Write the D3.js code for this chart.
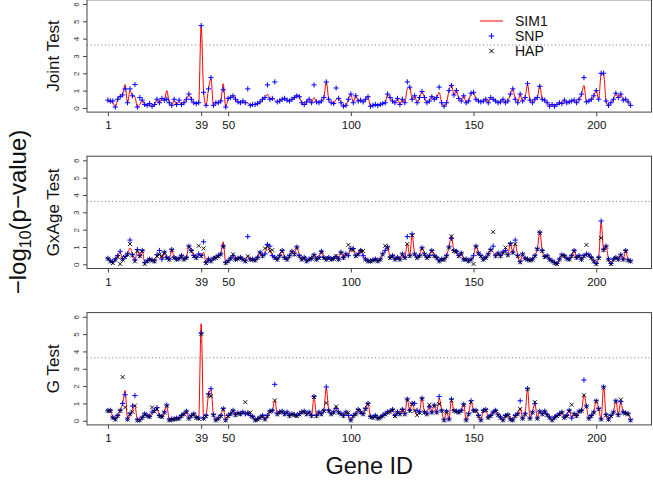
<!DOCTYPE html>
<html><head><meta charset="utf-8">
<script src="https://cdn.jsdelivr.net/npm/d3@7"></script>
<style>body{margin:0;background:#fff}svg{display:block}text{font-family:"Liberation Sans",Arial,Helvetica,sans-serif}</style>
</head><body><svg id="c" width="653" height="484"></svg>
<script>
// ---------- data ----------
const nGenes = 214;
const xTicks = [1, 39, 50, 100, 150, 200];
const yTicks = [0, 1, 2, 3, 4, 5, 6];
const threshold = 3.63; // -log10(0.05/214)
const panelNames = ["Joint Test", "GxAge Test", "G Test"];
const seriesNames = ["SIM1", "SNP", "HAP"];

const jointSIM1 = [
0.40,0.35,0.30,0.05,0.50,0.70,0.80,1.35,0.30,1.00,
0.70,0.65,0.05,0.20,0.45,0.20,0.15,0.20,0.10,0.20,
0.50,0.30,0.55,0.45,1.00,0.30,0.15,0.45,0.20,0.40,
0.20,0.30,0.50,0.75,0.50,0.30,0.25,0.30,4.75,0.90,
0.15,1.10,1.70,0.15,0.30,0.30,0.40,1.40,0.05,0.50,
0.60,0.70,0.50,0.35,0.30,0.40,0.30,0.30,0.15,0.20,
0.20,0.25,0.35,0.50,0.60,0.80,0.50,0.55,0.45,0.35,
0.40,0.50,0.55,0.45,0.40,0.50,0.60,0.70,0.65,0.30,
0.20,0.35,0.50,0.30,0.60,0.35,0.30,0.40,0.60,1.50,
0.50,0.30,0.25,0.50,0.55,0.30,0.10,0.15,0.50,0.80,
0.30,0.70,0.40,0.45,0.35,0.50,0.65,0.10,0.15,0.20,
0.15,0.20,0.25,0.30,0.80,0.60,0.40,0.30,0.55,0.20,
0.50,0.30,1.10,1.20,0.50,0.70,0.30,0.60,0.95,0.60,
0.30,0.40,0.65,0.50,0.60,0.90,0.30,0.10,0.30,1.00,
1.35,0.75,1.00,0.55,0.40,0.70,0.30,0.40,0.85,0.90,
0.50,0.40,0.35,0.40,0.50,0.30,0.60,0.50,0.40,0.30,
0.35,0.50,0.30,0.40,0.80,1.10,0.50,0.30,0.80,0.40,
0.60,1.35,0.45,0.30,0.50,0.60,1.30,0.50,0.45,0.30,
0.10,0.20,0.10,0.20,0.30,0.25,0.45,0.30,0.35,0.40,
0.45,0.30,0.50,0.80,1.30,0.35,0.40,0.50,0.70,1.00,
0.50,1.95,1.95,0.40,0.15,0.30,0.50,0.85,0.60,0.80,
0.45,0.50,0.35,0.15];
const jointSNP = [
0.45,0.40,0.40,0.05,0.50,0.65,0.75,1.10,0.30,1.10,
0.70,1.35,0.05,0.60,0.45,0.20,0.15,0.25,0.10,0.20,
0.50,0.30,0.55,0.45,0.50,0.30,0.15,0.50,0.20,0.45,
0.20,0.30,0.50,0.80,0.50,0.30,0.25,0.30,4.75,0.90,
0.15,1.10,1.75,0.15,0.30,0.30,0.40,1.05,0.05,0.55,
0.60,0.70,0.50,0.35,0.30,0.40,0.30,1.10,0.15,0.20,
0.20,0.25,0.35,0.50,0.60,1.33,0.50,0.55,1.50,0.35,
0.40,0.50,0.55,0.45,0.40,0.50,0.60,0.70,0.65,0.30,
0.20,0.35,0.50,0.30,1.33,0.35,0.30,0.40,0.60,1.50,
0.50,0.30,0.25,1.15,0.55,0.30,0.10,0.15,0.50,0.80,
0.30,0.70,0.40,0.45,0.35,0.50,0.65,0.10,0.15,0.20,
0.15,0.20,0.25,0.30,0.80,0.60,0.40,0.30,0.55,0.20,
0.50,0.30,1.50,1.20,0.50,0.70,0.30,0.60,0.95,0.60,
0.30,0.40,0.65,0.50,0.60,1.20,0.30,0.10,0.30,1.00,
1.30,0.75,1.00,0.55,0.40,0.70,0.30,0.40,0.85,0.90,
0.50,0.40,0.35,0.40,0.50,0.30,0.60,0.50,0.40,0.30,
0.35,0.50,0.30,0.40,0.80,1.10,0.50,0.30,0.80,0.40,
0.60,1.40,0.45,0.30,0.50,0.60,1.25,0.50,0.45,0.30,
0.10,0.20,0.10,0.20,0.30,0.25,0.45,0.30,0.35,0.40,
0.45,0.30,0.50,0.80,1.75,0.35,0.40,0.50,0.70,1.00,
0.50,2.00,2.00,0.40,0.15,0.30,0.50,0.85,0.60,0.80,
0.45,0.50,0.35,0.15];
const jointHAP = [];

const gxaSIM1 = [
0.35,0.20,0.10,0.30,0.50,0.70,0.30,0.45,0.60,0.95,
0.55,0.20,0.80,0.50,0.80,0.10,0.20,0.30,0.25,0.20,
0.50,0.60,0.30,0.70,0.40,0.30,0.85,0.40,0.30,0.35,
0.50,0.30,0.40,1.05,0.80,0.50,0.40,0.60,0.50,0.70,
0.10,0.30,0.20,0.35,0.40,0.50,0.60,1.30,0.10,0.20,
0.35,0.50,0.30,0.35,0.40,0.30,0.20,0.50,0.30,0.30,
0.25,0.40,0.70,0.50,0.60,1.05,0.80,0.50,0.40,0.30,
0.50,0.80,0.40,0.30,0.50,0.75,0.60,1.00,0.50,0.30,
0.40,0.20,0.30,0.35,0.55,0.30,0.40,0.75,0.40,0.30,
0.40,0.30,0.35,0.45,0.30,0.70,0.40,0.60,0.50,0.90,
0.85,0.50,0.60,0.80,0.50,0.30,0.20,0.20,0.25,0.30,
0.20,0.30,0.60,0.80,1.00,0.40,0.50,0.30,0.40,0.30,
0.60,0.40,1.20,0.50,1.70,0.60,0.40,0.50,0.95,0.60,
0.40,0.50,0.80,0.50,0.40,0.20,0.30,0.30,0.50,1.00,
1.65,0.80,0.75,0.50,0.65,0.30,0.30,0.20,0.30,0.50,
1.05,0.65,0.50,0.30,0.40,0.60,0.85,0.70,0.50,0.65,
0.50,0.70,0.80,0.55,1.20,0.70,1.20,0.50,0.15,0.60,
0.35,0.30,0.25,0.30,0.50,0.90,1.85,0.80,0.45,0.50,
0.30,0.20,0.10,0.05,0.30,0.55,0.50,0.35,0.30,0.50,
0.80,0.40,0.50,0.30,0.50,0.60,0.55,0.40,0.20,0.05,
0.40,2.45,0.85,1.05,0.30,0.05,0.30,0.40,0.30,0.55,
0.30,0.80,0.25,0.20];
const gxaSNP = [
0.35,0.20,0.15,0.30,0.50,0.75,0.30,0.45,0.60,1.40,
0.55,0.25,0.85,0.50,0.80,0.10,0.20,0.30,0.25,0.20,
0.55,0.80,0.30,0.70,0.40,0.30,0.85,0.40,0.30,0.35,
0.50,0.30,0.40,1.05,0.80,0.50,0.40,0.60,0.50,1.30,
0.10,0.30,0.20,0.35,0.40,0.50,0.60,1.05,0.10,0.20,
0.35,0.50,0.30,0.35,0.40,0.30,0.20,1.60,0.30,0.30,
0.25,0.40,0.70,0.50,0.60,1.15,1.05,0.50,0.40,0.30,
0.50,0.80,0.40,0.30,0.50,0.75,0.60,1.00,0.50,0.30,
0.40,0.20,0.30,0.35,0.55,0.30,0.40,0.75,0.40,0.30,
0.40,0.30,0.35,0.45,0.30,0.70,0.40,0.60,0.50,0.90,
0.90,0.50,0.60,0.80,0.50,0.30,0.20,0.20,0.25,0.30,
0.20,0.30,0.60,0.80,1.00,0.40,0.50,0.30,0.40,0.30,
0.60,0.40,1.60,0.50,1.75,0.60,0.40,0.50,0.95,0.60,
0.40,0.50,0.80,0.50,0.40,0.20,0.30,0.30,0.50,1.00,
1.50,0.80,0.75,0.50,0.65,0.30,0.30,0.20,0.30,0.50,
1.05,0.65,0.50,0.30,0.40,0.60,0.85,1.05,0.50,0.65,
0.50,0.70,0.80,0.55,1.20,0.70,1.40,0.50,0.15,0.60,
0.35,0.30,0.25,0.30,0.50,0.90,1.85,0.80,0.45,0.50,
0.30,0.20,0.10,0.05,0.30,0.55,0.50,0.35,0.30,0.50,
0.80,0.40,0.50,0.30,0.50,0.60,0.55,0.40,0.20,0.05,
0.40,2.50,0.85,1.05,0.30,0.05,0.30,0.40,0.30,0.55,
0.30,0.80,0.25,0.20];
const gxaHAP = [
0.35,0.20,0.10,0.30,0.45,0.05,0.30,0.45,0.60,1.20,
0.55,0.20,0.80,0.50,0.80,0.05,0.20,0.30,0.25,0.20,
0.50,0.60,0.50,0.70,0.40,0.30,0.85,0.40,0.30,0.35,
0.50,0.30,0.40,1.05,0.80,0.50,0.40,1.10,0.50,0.95,
0.10,0.30,0.20,0.35,0.40,0.50,0.60,1.05,0.10,0.20,
0.35,0.60,0.30,0.35,0.40,0.30,0.20,0.50,0.30,0.30,
0.25,0.40,0.70,0.50,0.95,1.05,0.80,0.85,0.40,0.30,
0.50,0.80,0.40,0.30,0.50,0.75,0.60,1.00,0.50,0.30,
0.40,0.20,0.30,0.35,0.55,0.30,0.40,0.75,0.40,0.30,
0.40,0.30,0.35,0.50,0.30,0.70,0.40,0.60,1.15,0.90,
0.85,0.50,0.60,0.80,0.80,0.30,0.20,0.20,0.25,0.30,
0.20,0.30,0.60,1.10,1.00,0.40,0.50,0.30,0.40,0.30,
0.60,0.40,1.20,0.50,1.70,0.60,0.40,0.50,0.95,0.60,
0.40,0.50,0.80,0.50,0.40,0.20,0.30,0.30,0.50,1.00,
1.65,0.80,0.75,0.50,0.65,0.30,0.30,0.20,0.30,0.05,
1.05,0.65,0.50,0.30,0.40,0.60,0.85,1.90,0.50,0.65,
0.50,0.70,1.00,0.55,1.20,0.70,1.20,0.50,0.15,0.60,
0.35,0.30,0.25,0.30,0.50,0.90,1.85,0.80,0.45,0.50,
0.30,0.20,0.10,0.05,0.30,0.55,0.50,0.35,0.30,0.50,
0.80,0.40,0.50,0.30,0.50,1.15,0.55,0.40,0.20,0.05,
0.40,1.55,0.85,1.05,0.30,0.05,0.30,0.40,0.30,0.55,
0.30,0.80,0.25,0.20];

const gSIM1 = [
0.60,0.60,0.20,0.10,0.30,0.60,1.00,1.75,0.10,0.40,
0.60,0.90,0.05,0.05,0.20,0.40,0.30,0.25,0.50,0.55,
0.70,0.30,0.25,0.50,0.90,0.05,0.10,0.10,0.15,0.15,
0.30,0.40,0.55,0.15,0.30,0.40,0.20,0.15,5.60,0.15,
0.30,1.50,1.80,0.35,0.05,0.15,0.30,0.70,0.05,0.30,
0.40,0.60,0.35,0.45,0.40,0.50,0.40,0.45,0.30,0.25,
0.05,0.10,0.20,0.30,0.10,0.30,0.55,0.60,1.20,0.40,
0.50,0.55,0.40,0.50,0.30,0.40,0.35,0.30,0.40,0.50,
0.55,0.40,0.50,0.30,1.40,0.30,0.50,0.40,0.60,1.90,
0.60,0.40,0.50,0.85,0.50,0.40,0.30,0.50,0.30,0.05,
0.30,0.40,0.65,0.50,0.40,0.70,1.00,0.25,0.20,0.30,
0.15,0.20,0.30,0.40,0.50,0.55,0.65,0.30,0.50,0.40,
0.65,0.40,1.25,0.60,1.00,0.60,0.35,0.50,1.30,0.50,
0.40,0.95,0.50,0.90,0.50,1.30,0.60,0.05,0.55,0.10,
1.20,0.60,0.55,0.50,0.60,0.95,0.05,0.40,1.10,0.60,
0.60,0.30,0.05,0.60,0.65,0.20,0.30,0.50,0.60,0.35,
0.20,0.05,0.30,0.35,0.10,0.05,0.30,0.40,0.75,0.15,
0.40,1.85,0.15,0.50,1.00,0.15,0.55,0.40,0.55,0.35,
0.20,0.05,0.20,0.30,0.40,0.50,0.20,0.30,0.60,0.15,
0.40,0.30,0.55,0.60,1.50,0.85,0.15,0.30,0.50,1.15,
0.70,0.10,1.95,0.35,0.10,0.30,0.50,1.15,0.35,1.10,
0.50,0.45,0.40,0.05];
const gSNP = [
0.58,0.60,0.20,0.10,0.30,0.60,1.00,1.50,0.10,0.40,
0.85,1.45,0.05,0.05,0.20,0.40,0.30,0.25,0.50,0.60,
0.75,0.30,0.25,0.50,0.90,0.05,0.10,0.10,0.15,0.15,
0.30,0.40,0.55,0.15,0.30,0.40,0.20,0.15,5.05,0.15,
0.30,1.55,1.85,0.35,0.05,0.15,0.30,0.70,0.05,0.30,
0.40,0.60,0.35,0.45,0.40,0.50,0.40,0.45,0.30,0.25,
0.05,0.10,0.20,0.30,0.10,0.30,0.55,0.60,2.10,0.40,
0.50,0.55,0.40,0.50,0.30,0.40,0.35,0.30,0.40,0.50,
0.55,0.40,0.50,0.30,1.40,0.30,0.50,0.40,0.60,1.95,
0.60,0.40,0.50,0.70,0.50,0.40,0.30,0.50,0.30,0.05,
0.30,0.40,0.65,0.50,0.40,0.70,1.00,0.25,0.20,0.30,
0.15,0.20,0.30,0.40,0.50,0.55,0.65,0.30,0.50,0.40,
0.65,0.40,1.25,0.60,1.00,1.00,0.60,0.50,1.30,0.50,
0.40,0.80,0.50,0.90,0.50,1.40,0.60,0.05,0.55,0.10,
1.25,0.60,0.55,0.50,0.60,0.95,0.05,0.40,1.15,0.60,
0.60,0.30,0.05,0.60,0.65,0.20,0.30,0.50,0.60,0.35,
0.20,0.05,0.30,0.35,0.10,0.05,0.30,0.40,1.15,0.15,
0.40,1.85,0.15,0.50,1.00,0.15,0.55,0.40,0.55,0.35,
0.20,0.05,0.20,0.30,0.40,0.50,0.20,0.30,0.60,0.15,
0.40,0.30,0.55,0.60,2.35,0.85,0.15,0.30,0.50,1.15,
0.70,0.10,1.95,0.35,0.10,0.30,0.50,1.15,0.35,1.10,
0.50,0.45,0.40,0.05];
const gHAP = [
0.60,0.60,0.20,0.10,0.30,0.60,2.55,0.80,0.10,0.40,
0.55,0.90,0.05,0.05,0.20,0.40,0.30,0.25,0.80,0.55,
0.70,0.30,0.25,0.50,0.90,0.05,0.10,0.10,0.15,0.15,
0.30,0.40,0.55,0.15,0.30,0.40,0.20,0.15,5.05,0.15,
0.30,1.50,1.45,0.35,0.05,0.15,0.30,0.70,0.05,0.30,
0.40,0.60,0.35,0.45,0.40,0.50,1.10,0.45,0.50,0.25,
0.05,0.10,0.20,0.30,0.10,0.30,0.55,0.60,1.20,0.40,
0.50,0.55,0.40,0.50,0.30,0.40,0.35,0.30,0.40,0.50,
0.55,0.40,0.50,0.30,1.40,0.30,0.50,0.40,0.60,1.05,
0.60,0.40,0.50,0.85,0.50,0.40,0.30,0.50,0.50,0.05,
0.30,0.40,0.65,0.50,0.40,0.70,1.00,0.25,0.20,0.30,
0.15,0.20,0.30,0.40,0.50,0.55,0.65,0.30,0.50,0.40,
0.65,0.40,1.25,0.60,1.00,0.60,0.35,0.50,1.30,0.50,
0.40,0.95,0.50,0.90,0.50,1.00,0.60,0.05,0.55,0.10,
1.20,0.60,0.55,0.50,0.60,0.95,0.05,0.40,1.10,0.60,
0.60,0.30,0.05,0.60,0.65,0.20,0.30,0.50,0.60,0.35,
0.20,0.05,0.30,0.35,0.10,0.05,0.30,0.40,0.70,0.15,
0.40,1.85,0.15,0.50,1.10,0.15,0.55,0.40,0.55,0.35,
0.20,0.05,0.20,0.30,0.40,0.50,0.20,0.30,0.60,0.95,
0.40,0.30,0.55,0.60,1.50,0.85,0.15,0.30,0.50,1.15,
0.70,0.10,1.95,0.35,0.10,0.30,0.50,1.15,0.35,1.25,
0.50,0.45,0.40,0.05];

// ---------- drawing ----------
const svg = d3.select("#c");
const plotL = 87, plotR = 651.5, plotH = 112.3;
const panelTops = [-0.2, 156.2, 312.6];
const panels = [
  {name: panelNames[0], sim: jointSIM1, snp: jointSNP, hap: jointHAP},
  {name: panelNames[1], sim: gxaSIM1, snp: gxaSNP, hap: gxaHAP},
  {name: panelNames[2], sim: gSIM1, snp: gSNP, hap: gHAP}
];
const pad = 0.04 * (nGenes - 1);
const x = d3.scaleLinear().domain([1 - pad, nGenes + pad]).range([plotL, plotR]);
const genes = d3.range(1, nGenes + 1);

const plusPath = s => `M${-s},0H${s}M0,${-s}V${s}`;
const crossPath = s => `M${-s},${-s}L${s},${s}M${-s},${s}L${s},${-s}`;

panels.forEach((p, i) => {
  const top = panelTops[i];
  const y = d3.scaleLinear().domain([-0.24, 6.24]).range([top + plotH, top]);
  const g = svg.append("g");

  // threshold
  g.append("line").attr("x1", plotL).attr("x2", plotR)
    .attr("y1", y(threshold)).attr("y2", y(threshold))
    .attr("stroke", "#777").attr("stroke-width", 1).attr("stroke-dasharray", "1,2.6");

  // SIM1 line
  const line = d3.line().x((d, k) => x(genes[k])).y(d => y(d)).curve(d3.curveMonotoneX);
  g.append("path").datum(p.sim).attr("d", line)
    .attr("fill", "none").attr("stroke", "#ff0000").attr("stroke-width", 1);

  // SNP +
  g.append("g").selectAll("path").data(p.snp).join("path")
    .attr("transform", (d, k) => `translate(${x(genes[k])},${y(d)})`)
    .attr("d", plusPath(2.6)).attr("stroke", "#0000ff").attr("stroke-width", 1).attr("fill", "none");

  // HAP x
  g.append("g").selectAll("path").data(p.hap).join("path")
    .attr("transform", (d, k) => `translate(${x(genes[k])},${y(d) + 0.5})`)
    .attr("d", crossPath(2)).attr("stroke", "#000").attr("stroke-width", 0.9).attr("fill", "none");

  // box
  g.append("rect").attr("x", plotL).attr("y", top).attr("width", plotR - plotL).attr("height", plotH)
    .attr("fill", "none").attr("stroke", "#444").attr("stroke-width", 1);

  // x axis
  const xa = g.append("g").attr("transform", `translate(0,${top + plotH})`)
    .call(d3.axisBottom(x).tickValues(xTicks).tickSize(4).tickPadding(5).tickFormat(d3.format("d")));
  xa.select(".domain").remove();
  xa.selectAll("line").attr("stroke", "#444");
  xa.selectAll("text").attr("font-size", 11.5).attr("fill", "#111")
    .attr("font-family", "'Liberation Sans',Arial,sans-serif");

  // y axis
  const ya = g.append("g").attr("transform", `translate(${plotL},0)`)
    .call(d3.axisLeft(y).tickValues(yTicks).tickSize(4).tickFormat(d3.format("d")));
  ya.select(".domain").remove();
  ya.selectAll("line").attr("stroke", "#444");
  ya.selectAll("text").attr("x", 0).attr("y", 0).attr("dy", 0)
    .attr("text-anchor", "middle").attr("transform", "translate(-8,0) rotate(-90)")
    .attr("font-size", 8).attr("fill", "#333")
    .attr("font-family", "'Liberation Sans',Arial,sans-serif");

  // panel label
  svg.append("text").attr("transform", `translate(59,${top + plotH / 2}) rotate(-90)`)
    .attr("text-anchor", "middle").attr("font-size", 17).attr("fill", "#111").text(p.name);
});

// legend
const lg = svg.append("g");
lg.append("line").attr("x1", 480).attr("x2", 503).attr("y1", 21).attr("y2", 21)
  .attr("stroke", "#ff0000").attr("stroke-width", 1);
lg.append("path").attr("transform", "translate(491.5,36)").attr("d", plusPath(2.8))
  .attr("stroke", "#0000ff").attr("stroke-width", 1);
lg.append("path").attr("transform", "translate(491.5,51)").attr("d", crossPath(2.2))
  .attr("stroke", "#000").attr("stroke-width", 1);
seriesNames.forEach((s, k) => {
  lg.append("text").attr("x", 515).attr("y", 21 + 15 * k + 4.8)
    .attr("font-size", 14).attr("fill", "#111").text(s);
});

// axis titles
svg.append("text").attr("x", (plotL + plotR) / 2).attr("y", 474)
  .attr("text-anchor", "middle").attr("font-size", 23.5).attr("fill", "#111").text("Gene ID");

const yt = svg.append("text").attr("transform", "translate(26,212) rotate(-90)")
  .attr("text-anchor", "middle").attr("font-size", 24).attr("fill", "#111");
yt.append("tspan").text("\u2212log");
yt.append("tspan").attr("font-size", 16).attr("dy", 5).text("10");
yt.append("tspan").attr("dy", -5).text("(p\u2212value)");
</script></body></html>
